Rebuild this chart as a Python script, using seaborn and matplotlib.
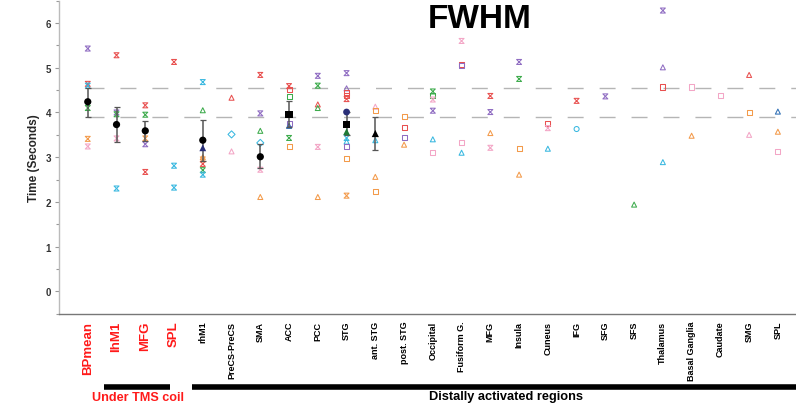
import matplotlib
matplotlib.use("Agg")
import matplotlib.pyplot as plt
from matplotlib.path import Path
from matplotlib.lines import Line2D
from matplotlib.ticker import MultipleLocator
import seaborn as sns
import pandas as pd

# region labels along the x axis (index = x position)
regions = ["BPmean", "lhM1", "MFG", "SPL", "rhM1", "PreCS-PreCS", "SMA", "ACC",
           "PCC", "STG", "ant. STG", "post. STG", "Occipital", "Fusiform G.",
           "MFG", "Insula", "Cuneus", "IFG", "SFG", "SFS", "Thalamus",
           "Basal Ganglia", "Caudate", "SMG", "SPL"]
n_tms = 4  # first four are under the TMS coil

# individual subject values (open markers)
pt_region = [0, 0, 0, 0, 0, 0,
             1, 1, 1, 1, 1,
             2, 2, 2, 2, 2,
             3, 3, 3,
             4, 4, 4, 4, 4, 4, 4,
             5, 5, 5,
             6, 6, 6, 6, 6, 6,
             7, 7, 7, 7, 7, 7, 7,
             8, 8, 8, 8, 8, 8,
             9, 9, 9, 9, 9, 9, 9, 9, 9, 9,
             10, 10, 10, 10, 10,
             11, 11, 11, 11,
             12, 12, 12, 12, 12, 12,
             13, 13, 13, 13, 13,
             14, 14, 14, 14,
             15, 15, 15, 15,
             16, 16, 16,
             17, 17,
             18,
             19,
             20, 20, 20, 20,
             21, 21,
             22,
             23, 23, 23,
             24, 24, 24]
pt_time = [5.43, 4.64, 4.60, 4.10, 3.41, 3.24,
           5.28, 4.00, 3.96, 3.42, 2.30,
           4.16, 3.95, 3.42, 3.29, 2.67,
           5.13, 2.81, 2.32,
           4.68, 4.05, 3.00, 2.95, 2.85, 2.71, 2.61,
           4.33, 3.51, 3.13,
           4.84, 3.98, 3.59, 3.32, 2.72, 2.11,
           4.59, 4.51, 4.35, 3.75, 3.70, 3.43, 3.24,
           4.82, 4.60, 4.18, 4.10, 3.23, 2.11,
           4.88, 4.54, 4.44, 4.38, 4.30, 3.43, 3.35, 3.24, 2.96, 2.14,
           4.13, 4.05, 3.38, 2.56, 2.23,
           3.91, 3.66, 3.43, 3.28,
           4.47, 4.37, 4.29, 4.04, 3.40, 3.10,
           5.60, 5.07, 5.05, 3.32, 3.10,
           4.37, 4.01, 3.54, 3.21,
           5.13, 4.75, 3.19, 2.61,
           3.76, 3.65, 3.19,
           4.26, 3.63,
           4.36,
           1.94,
           6.28, 5.01, 4.57, 2.89,
           4.57, 3.48,
           4.37,
           4.84, 4.01, 3.50,
           4.02, 3.57, 3.13]
pt_subj = ["purple", "red", "cyan", "green", "orange", "pink",
           "red", "purple", "green", "pink", "cyan",
           "red", "green", "orange", "purple", "red",
           "red", "cyan", "cyan",
           "cyan", "green", "orange", "orange", "red", "green", "cyan",
           "red", "cyan", "pink",
           "red", "purple", "green", "cyan", "pink", "orange",
           "red", "red", "green", "purple", "blue", "green", "orange",
           "purple", "green", "red", "green", "pink", "orange",
           "purple", "purple", "red", "red", "red", "cyan", "cyan", "purple", "orange", "orange",
           "pink", "orange", "cyan", "orange", "orange",
           "orange", "red", "purple", "orange",
           "green", "green", "pink", "purple", "cyan", "pink",
           "pink", "red", "purple", "pink", "cyan",
           "red", "purple", "orange", "pink",
           "purple", "green", "orange", "orange",
           "red", "pink", "cyan",
           "red", "cyan",
           "purple",
           "green",
           "purple", "purple", "red", "cyan",
           "pink", "orange",
           "pink",
           "red", "orange", "pink",
           "blue", "orange", "pink"]
pt_mark = ["hg", "hg", "hg", "hg", "hg", "hg",
           "hg", "hg", "hg", "hg", "hg",
           "hg", "hg", "hg", "hg", "hg",
           "hg", "hg", "hg",
           "hg", "^", "^", "hg", "hg", "hg", "hg",
           "^", "D", "^",
           "hg", "hg", "^", "D", "hg", "^",
           "hg", "s", "s", "s", "^", "hg", "s",
           "hg", "hg", "^", "^", "hg", "^",
           "hg", "^", "s", "s", "hg", "hg", "^", "s", "s", "hg",
           "^", "s", "^", "^", "s",
           "s", "s", "s", "^",
           "hg", "s", "hg", "hg", "^", "s",
           "hg", "s", "s", "s", "^",
           "hg", "hg", "^", "hg",
           "hg", "hg", "s", "^",
           "s", "hg", "^",
           "hg", "o",
           "hg",
           "^",
           "hg", "^", "s", "^",
           "s", "^",
           "s",
           "^", "s", "^",
           "^", "^", "s"]

# filled coloured sub-group means
sub_region = [4, 9, 9]
sub_time = [3.21, 4.01, 3.57]
sub_subj = ["navy", "navy", "dkgreen"]
sub_mark = ["^", "o", "^"]

# group means with error bars (black)
mean_region = [0, 1, 2, 4, 6, 7, 9, 10]
mean_time = [4.24, 3.73, 3.59, 3.38, 3.01, 3.96, 3.74, 3.53]
mean_lo = [3.89, 3.33, 3.36, 2.92, 2.75, 3.68, 3.50, 3.17]
mean_hi = [4.55, 4.13, 3.80, 3.84, 3.30, 4.26, 4.00, 3.89]
mean_mark = ["o", "o", "o", "o", "o", "s", "s", "^"]

# BPmean error range shown as dashed reference lines
ref_lines = [4.54, 3.89]

palette = {"purple": "#8f6cc2", "red": "#e8504f", "cyan": "#39b8e0",
           "green": "#3dab4c", "orange": "#f39a4a", "pink": "#f3a6c6",
           "blue": "#2f6fb5", "navy": "#2a2f78", "dkgreen": "#1f7a36"}

hourglass = Path([(-1, 1), (1, 1), (-1, -1), (1, -1), (-1, 1)],
                 [Path.MOVETO, Path.LINETO, Path.LINETO, Path.LINETO, Path.CLOSEPOLY])
markers = {"hg": hourglass, "s": "s", "^": "^", "D": "D", "o": "o"}

pts = pd.DataFrame({"x": pt_region, "t": pt_time, "subj": pt_subj, "mark": pt_mark})
subs = pd.DataFrame({"x": sub_region, "t": sub_time, "subj": sub_subj, "mark": sub_mark})
means = pd.DataFrame({"x": mean_region, "t": mean_time, "lo": mean_lo,
                      "hi": mean_hi, "mark": mean_mark})

sns.set_style("white")
plt.rcParams["font.family"] = ["Liberation Sans", "DejaVu Sans"]

fig = plt.figure(figsize=(7.96, 4.06), dpi=100)
ax = fig.add_axes([59.3 / 796, 91.3 / 406, 736.7 / 796, 313 / 406])

# dashed reference lines
for y in ref_lines:
    ax.hlines(y, 0, 25, colors="#b5b5b5", linewidth=1.0,
              linestyles=(0, (11.5, 11.5)), zorder=1)

# open subject markers
sns.scatterplot(data=pts, x="x", y="t", hue="subj", style="mark",
                palette=palette, markers=markers, s=13, legend=False,
                ax=ax, zorder=3)
coll = ax.collections[-1]
fc = coll.get_facecolors()
coll.set_edgecolors(fc)
coll.set_facecolors("none")
coll.set_linewidths(0.75)

# error bars for group means
ax.errorbar(means["x"], means["t"],
            yerr=[means["t"] - means["lo"], means["hi"] - means["t"]],
            fmt="none", ecolor="#555555", elinewidth=1.1, capsize=2.5,
            capthick=0.9, zorder=4)

# filled sub-group means
sns.scatterplot(data=subs, x="x", y="t", hue="subj", style="mark",
                palette=palette, markers={"^": "^", "o": "o"}, s=24,
                edgecolor="none", legend=False, ax=ax, zorder=5)

# black group means
sns.scatterplot(data=means, x="x", y="t", style="mark", color="black",
                markers={"o": "o", "s": "s", "^": "^"}, s=27,
                edgecolor="none", legend=False, ax=ax, zorder=6)

ax.set_xlim(-0.99, 24.63)
ax.set_ylim(-0.5, 6.5)
ax.yaxis.set_major_locator(MultipleLocator(1))
ax.yaxis.set_minor_locator(MultipleLocator(0.5))
ax.tick_params(axis="y", which="major", direction="out", length=3, width=0.8,
               color="#999999", labelsize=7, pad=3, left=True)
ax.tick_params(axis="y", which="minor", direction="out", length=2, width=0.8,
               color="#999999", left=True)
for lab in ax.get_yticklabels():
    lab.set_fontweight("bold")
    lab.set_color("#333333")

ax.set_xticks(range(len(regions)))
ax.set_xticklabels(regions, rotation=90)
ax.tick_params(axis="x", length=0, pad=5)
for i, lab in enumerate(ax.get_xticklabels()):
    lab.set_fontweight("bold")
    if i < n_tms:
        lab.set_color("#ff1a1a")
        lab.set_fontsize(9.5)
    else:
        lab.set_color("black")
        lab.set_fontsize(6.5)

ax.set_xlabel("")
ax.set_ylabel("Time (Seconds)", fontsize=8.5, fontweight="bold", labelpad=4)

for side in ["top", "right"]:
    ax.spines[side].set_visible(False)
ax.spines["left"].set_color("#bbbbbb")
ax.spines["left"].set_linewidth(1.0)
ax.spines["bottom"].set_color("#777777")
ax.spines["bottom"].set_linewidth(1.0)

fig.text(479.5 / 796, 1 - 28 / 406, "FWHM", fontsize=24, fontweight="bold",
         color="black", ha="center", va="baseline")

# group brackets below the labels
ybar = 1 - 387.8 / 406
fig.add_artist(Line2D([104 / 796, 170 / 796], [ybar, ybar], color="black",
                      linewidth=4.0, solid_capstyle="butt"))
fig.add_artist(Line2D([191.7 / 796, 1.0], [ybar, ybar], color="black",
                      linewidth=4.0, solid_capstyle="butt"))
fig.text(137.5 / 796, 1 - 398 / 406, "Under TMS coil", fontsize=9.1,
         fontweight="bold", color="#ff1a1a", ha="center", va="center")
fig.text(506 / 796, 1 - 397.5 / 406, "Distally activated regions", fontsize=9.2,
         fontweight="bold", color="black", ha="center", va="center")

fig.savefig("out.png", dpi=100)
